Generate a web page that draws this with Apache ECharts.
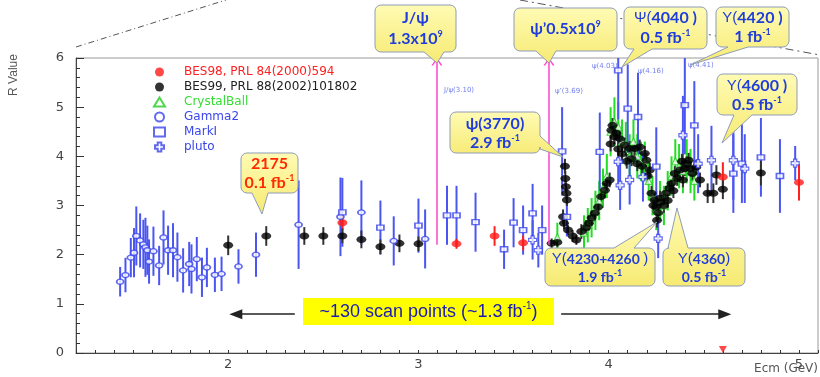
<!DOCTYPE html>
<html>
<head>
<meta charset="utf-8">
<script src="https://cdn.jsdelivr.net/npm/echarts@6/dist/echarts.min.js"></script>
<style>
  html, body { margin: 0; padding: 0; background: #fff; }
  #chart { width: 820px; height: 377px; }
</style>
</head>
<body>
<div id="chart"></div>
<script>
// each point: [Ecm (GeV), R, error]
const bes98 = [
  [2.6, 2.65, 0.15], [3.2, 2.22, 0.1], [3.4, 2.38, 0.2], [3.55, 2.24, 0.15],
  [4.6, 3.58, 0.3], [5.0, 3.47, 0.37]
];
const bes99 = [
  [2.0, 2.19, 0.2], [2.2, 2.38, 0.2], [2.4, 2.38, 0.18], [2.5, 2.38, 0.18], [2.6, 2.38, 0.15],
  [2.7, 2.31, 0.18], [2.8, 2.16, 0.15], [2.9, 2.23, 0.18], [3.0, 2.22, 0.15],
  [3.7, 2.23, 0.1], [3.73, 2.25, 0.1],
  [3.76, 2.77, 0.15], [3.765, 2.64, 0.12], [3.77, 3.8, 0.15], [3.772, 3.55, 0.15], [3.775, 3.38, 0.12],
  [3.778, 3.25, 0.12], [3.78, 3.11, 0.12], [3.786, 2.5, 0.1], [3.81, 2.38, 0.12], [3.83, 2.3, 0.1],
  [3.856, 2.47, 0.15], [3.88, 2.55, 0.15], [3.896, 2.64, 0.15], [3.91, 2.75, 0.15], [3.926, 2.84, 0.15],
  [3.944, 2.97, 0.15], [3.96, 3.18, 0.15], [3.98, 3.31, 0.15], [3.99, 3.45, 0.15], [4.005, 3.52, 0.15],
  [4.01, 4.25, 0.15], [4.014, 4.53, 0.15], [4.02, 4.63, 0.15], [4.03, 4.4, 0.15], [4.04, 4.47, 0.15],
  [4.05, 4.15, 0.15], [4.058, 4.36, 0.15], [4.07, 4.05, 0.15], [4.084, 4.23, 0.15], [4.095, 3.9, 0.15],
  [4.11, 4.16, 0.15], [4.12, 3.95, 0.15], [4.137, 4.16, 0.15], [4.15, 3.85, 0.15], [4.163, 4.19, 0.15],
  [4.175, 3.8, 0.15], [4.19, 4.06, 0.15], [4.198, 3.92, 0.15], [4.205, 3.6, 0.15], [4.216, 3.72, 0.15],
  [4.225, 3.25, 0.15], [4.235, 3.0, 0.15], [4.24, 3.11, 0.15], [4.25, 2.97, 0.15], [4.254, 2.7, 0.15],
  [4.26, 2.85, 0.15], [4.27, 3.15, 0.15], [4.277, 3.07, 0.15], [4.29, 3.0, 0.15], [4.3, 3.25, 0.15],
  [4.31, 3.1, 0.15], [4.32, 3.35, 0.15], [4.33, 3.45, 0.15], [4.34, 3.3, 0.15], [4.347, 3.65, 0.15],
  [4.36, 3.55, 0.15], [4.374, 3.72, 0.15], [4.385, 3.9, 0.15], [4.39, 3.52, 0.15], [4.4, 3.75, 0.15],
  [4.41, 3.85, 0.15], [4.42, 3.92, 0.15], [4.43, 3.75, 0.15], [4.44, 3.65, 0.15], [4.46, 3.78, 0.15],
  [4.48, 3.52, 0.15], [4.52, 3.25, 0.2], [4.55, 3.25, 0.2], [4.566, 3.62, 0.2], [4.6, 3.33, 0.2],
  [4.8, 3.66, 0.25]
];
const crystalBall = [
  [3.73, 2.35, 0.3], [3.87, 2.45, 0.35], [3.89, 2.6, 0.35], [3.91, 2.75, 0.4], [3.93, 2.9, 0.4],
  [3.95, 3.1, 0.4], [3.97, 3.35, 0.4], [3.99, 3.6, 0.45], [4.01, 4.5, 0.5], [4.03, 4.7, 0.5],
  [4.05, 4.6, 0.5], [4.07, 4.3, 0.45], [4.09, 4.25, 0.45], [4.11, 4.0, 0.45], [4.13, 4.3, 0.45],
  [4.15, 4.0, 0.45], [4.17, 3.9, 0.4], [4.19, 3.9, 0.4], [4.21, 3.5, 0.4], [4.23, 3.2, 0.4],
  [4.25, 2.9, 0.4], [4.27, 3.1, 0.4], [4.29, 3.0, 0.4], [4.31, 3.3, 0.4], [4.33, 3.6, 0.4],
  [4.35, 3.9, 0.45], [4.37, 3.8, 0.45], [4.39, 3.7, 0.45], [4.41, 3.9, 0.45], [4.43, 3.7, 0.45],
  [4.45, 3.5, 0.4]
];
const gamma2 = [
  [1.432, 1.45, 0.3], [1.46, 1.585, 0.35], [1.488, 1.94, 0.4], [1.505, 2.04, 0.5], [1.517, 2.38, 0.6],
  [1.537, 2.29, 0.55], [1.554, 2.21, 0.5], [1.565, 2.15, 0.6], [1.575, 2.09, 0.5], [1.584, 1.86, 0.45],
  [1.607, 2.07, 0.5], [1.637, 1.78, 0.4], [1.66, 2.35, 0.55], [1.684, 2.09, 0.5], [1.71, 2.09, 0.55],
  [1.733, 1.95, 0.5], [1.763, 1.68, 0.45], [1.795, 1.81, 0.45], [1.807, 1.71, 0.5], [1.835, 1.91, 0.45],
  [1.862, 1.54, 0.4], [1.888, 1.74, 0.4], [1.93, 1.59, 0.35], [1.965, 1.61, 0.35], [2.054, 1.76, 0.35],
  [2.146, 2.0, 0.45], [2.37, 2.61, 0.9], [2.59, 2.77, 0.8], [2.7, 2.86, 0.65], [2.87, 2.28, 0.5],
  [3.035, 2.32, 0.6]
];
const markI = [
  [2.6, 2.86, 0.7], [2.8, 2.55, 0.55], [3.0, 2.59, 0.55], [3.15, 2.8, 0.6], [3.2, 2.8, 0.6],
  [3.3, 2.66, 0.6], [3.45, 2.11, 0.4], [3.5, 2.65, 0.5], [3.55, 2.5, 0.5], [3.6, 2.84, 0.6],
  [3.65, 2.5, 0.5], [3.755, 4.1, 0.9], [3.78, 2.77, 0.4], [3.953, 4.09, 0.8], [4.05, 5.75, 1.0],
  [4.1, 4.97, 0.9], [4.154, 4.8, 0.9], [4.25, 3.79, 0.8], [4.4, 5.04, 1.0], [4.45, 4.63, 0.9],
  [4.655, 3.65, 0.8], [4.7, 3.85, 0.8], [4.8, 3.98, 0.8], [4.9, 3.6, 0.75]
];
const pluto = [
  [3.6, 2.3, 0.4], [3.63, 2.09, 0.35], [4.05, 3.89, 0.5], [4.06, 3.41, 0.5], [4.11, 3.52, 0.5],
  [4.18, 3.58, 0.5], [4.26, 2.33, 0.4], [4.39, 4.43, 0.8], [4.47, 3.85, 0.6], [4.54, 3.92, 0.7],
  [4.655, 3.92, 0.8], [4.715, 3.75, 0.7], [4.98, 3.86, 0.35]
];
const xLabelValues = [2, 3, 4, 5];
const resonanceLines = [3.097, 3.686];   // J/psi and psi' energies
const scanArrowLeft = [2.35, 2.04];
const scanArrowRight = [3.75, 4.61];
const scanArrowR = 0.79;
const axisMarker = [[4.6, 0.07]];

const chart = echarts.init(document.getElementById('chart'));

const BLUE = '#3a45ee';
const TXT = '#1f3ddc';

function errorSeries(name, data, color, width) {
  return {
    name: name,
    type: 'custom',
    data: data,
    clip: true,
    silent: true,
    encode: { x: 0, y: 1 },
    renderItem: function (params, api) {
      const x = api.value(0), y = api.value(1), e = api.value(2);
      const p1 = api.coord([x, y - e]);
      const p2 = api.coord([x, y + e]);
      return {
        type: 'line',
        shape: { x1: p1[0], y1: p1[1], x2: p2[0], y2: p2[1] },
        style: { stroke: color, lineWidth: width }
      };
    }
  };
}

function markerSeries(name, data, symbol, size, style, z) {
  return {
    name: name,
    type: 'scatter',
    data: data.map(d => [d[0], d[1]]),
    symbol: symbol,
    symbolSize: size,
    itemStyle: style,
    z: z
  };
}

// speech-bubble outline (rounded box + tail) as polygon points
function bubblePoints(b) {
  const x = b.x, y = b.y, w = b.w, h = b.h, r = 6, t = b.tip;
  const pts = [];
  function corner(cx, cy, a0) {
    for (let i = 0; i <= 4; i++) {
      const a = a0 + (Math.PI / 2) * i / 4;
      pts.push([cx + r * Math.cos(a), cy + r * Math.sin(a)]);
    }
  }
  corner(x + r, y + r, Math.PI);               // top-left
  if (b.side === 'top') pts.push([b.b1, y], t, [b.b2, y]);
  corner(x + w - r, y + r, -Math.PI / 2);      // top-right
  if (b.side === 'right') pts.push([x + w, b.b1], t, [x + w, b.b2]);
  corner(x + w - r, y + h - r, 0);             // bottom-right
  if (b.side === 'bottom') pts.push([b.b2, y + h], t, [b.b1, y + h]);
  corner(x + r, y + h - r, Math.PI / 2);       // bottom-left
  return pts;
}

const bubbles = [
  { x: 241, y: 153, w: 57, h: 40, side: 'bottom', b1: 252, b2: 268, tip: [262, 214], color: '#ff2a00',
    lines: [['{b|2175}', 164], ['{b|0.1 fb}{s|-1}', 183]] },
  { x: 375, y: 5, w: 81, h: 47, side: 'bottom', b1: 424, b2: 444, tip: [437, 63], color: TXT,
    lines: [['{b|J/ψ}', 18], ['{b|1.3x10}{s|9}', 39]] },
  { x: 514, y: 8, w: 103, h: 43, side: 'bottom', b1: 536, b2: 556, tip: [549, 63], color: TXT,
    lines: [['{b|ψ’0.5x10}{s|9}', 29]] },
  { x: 624, y: 7, w: 83, h: 42, side: 'bottom', b1: 634, b2: 652, tip: [622, 67], color: TXT,
    lines: [['{t|Ψ(}{b|4040 )}', 18], ['{b|0.5 fb}{s|-1}', 38]] },
  { x: 716, y: 7, w: 73, h: 40, side: 'bottom', b1: 728, b2: 748, tip: [690, 65], color: TXT,
    lines: [['{t|Y(}{b|4420 )}', 18], ['{b|1 fb}{s|-1}', 37]] },
  { x: 717, y: 74, w: 80, h: 41, side: 'bottom', b1: 734, b2: 752, tip: [722, 143], color: TXT,
    lines: [['{t|Y(}{b|4600 )}', 86], ['{b|0.5 fb}{s|-1}', 105]] },
  { x: 450, y: 112, w: 90, h: 41, side: 'right', b1: 136, b2: 149, tip: [563, 157], color: TXT,
    lines: [['{b|ψ(3770)}', 124], ['{b|2.9 fb}{s|-1}', 143]] },
  { x: 545, y: 248, w: 110, h: 38, side: 'top', b1: 614, b2: 634, tip: [657, 222], color: TXT,
    lines: [['{t|Y(}{m|4230+4260 }{t|)}', 259], ['{m|1.9 fb}{s|-1}', 277]] },
  { x: 663, y: 248, w: 82, h: 38, side: 'top', b1: 668, b2: 688, tip: [677, 208], color: TXT,
    lines: [['{t|Y(}{m|4360}{t|)}', 259], ['{m|0.5 fb}{s|-1}', 277]] }
];

const graphics = [];
bubbles.forEach(b => {
  graphics.push({
    type: 'polygon',
    shape: { points: bubblePoints(b) },
    style: {
      fill: {
        type: 'linear', x: 0, y: 0, x2: 0, y2: 1,
        colorStops: [{ offset: 0, color: '#fffbb4' }, { offset: 1, color: '#f6ea72' }]
      },
      stroke: '#8f9cb6',
      lineWidth: 1
    },
    z: 100
  });
  const cx = b.x + b.w / 2;
  b.lines.forEach(l => {
    graphics.push({
      type: 'text',
      z: 101,
      style: {
        text: l[0], x: cx, y: l[1], align: 'center', verticalAlign: 'middle',
        rich: {
          b: { fill: b.color, fontFamily: 'Lato', fontWeight: 'bold', fontSize: 16, lineHeight: 18 },
          m: { fill: b.color, fontFamily: 'Lato', fontWeight: 'bold', fontSize: 14, lineHeight: 17 },
          t: { fill: b.color, fontFamily: 'Liberation Sans', fontSize: 15, lineHeight: 17 },
          s: { fill: b.color, fontFamily: 'Lato', fontWeight: 'bold', fontSize: 9, verticalAlign: 'top' }
        }
      }
    });
  });
});

// highlighted scan label
graphics.push({
  type: 'rect', shape: { x: 303, y: 298, width: 251, height: 27 },
  style: { fill: '#ffff00' }, z: 100
});
graphics.push({
  type: 'text', z: 101,
  style: {
    text: '{a|~130 scan points (~1.3 fb}{s|-1}{a|)}', x: 428.5, y: 312, align: 'center', verticalAlign: 'middle',
    rich: {
      a: { fill: '#1a1ab4', fontFamily: 'Liberation Sans', fontSize: 18, lineHeight: 22 },
      s: { fill: '#1a1ab4', fontFamily: 'Liberation Sans', fontSize: 10, verticalAlign: 'top' }
    }
  }
});

// axis titles
graphics.push({
  type: 'text', x: 14, y: 75, rotation: Math.PI / 2, z: 50,
  style: { text: 'R Value', align: 'center', verticalAlign: 'middle', fill: '#555', font: '12px "Liberation Sans"' }
});
graphics.push({
  type: 'text', z: 50,
  style: { text: 'Ecm (GeV)', x: 818, y: 369, align: 'right', verticalAlign: 'middle', fill: '#555', font: '12px "DejaVu Sans"' }
});

// zoom guide lines at the top
graphics.push({
  type: 'line', shape: { x1: 76, y1: 47, x2: 226, y2: 0 },
  style: { stroke: '#555', lineWidth: 1, lineDash: [6, 3, 1, 3] }, z: 5
});
graphics.push({
  type: 'line', shape: { x1: 520, y1: 0, x2: 820, y2: 55 },
  style: { stroke: '#555', lineWidth: 1, lineDash: [8, 4, 2, 4] }, z: 5
});

// tiny resonance tags
[['J/ψ(3.10)', 444, 90], ['ψ’(3.69)', 555, 91], ['ψ(4.03)', 592, 66], ['ψ(4.16)', 638, 71], ['ψ(4.41)', 688, 65]]
  .forEach(t => graphics.push({
    type: 'text', z: 20,
    style: { text: t[0], x: t[1], y: t[2], align: 'left', verticalAlign: 'middle', fill: '#7380ee', font: '7px "DejaVu Sans"' }
  }));

const plusPath = 'path://M3,0 L7,0 L7,3 L10,3 L10,7 L7,7 L7,10 L3,10 L3,7 L0,7 L0,3 L3,3 Z';
const chevron = 'path://M0,10 L5,0 L10,10 L8.4,10 L5,3 L1.6,10 Z';

const option = {
  animation: false,
  backgroundColor: '#fff',
  grid: {
    left: 76, right: 2, top: 58, bottom: 24,
    show: true, borderColor: '#9a9a9a', borderWidth: 1
  },
  legend: {
    orient: 'vertical',
    left: 148,
    top: 61,
    itemWidth: 11,
    itemHeight: 9,
    itemGap: 3,
    selectedMode: false,
    textStyle: { fontFamily: 'DejaVu Sans', fontSize: 12, lineHeight: 12, padding: [0, 0, 0, 14] },
    data: [
      { name: 'BES98, PRL 84(2000)594', textStyle: { color: '#ff2020' } },
      { name: 'BES99, PRL 88(2002)101802', textStyle: { color: '#222' } },
      { name: 'CrystalBall', textStyle: { color: '#33dd33' } },
      { name: 'Gamma2', textStyle: { color: BLUE } },
      { name: 'MarkI', textStyle: { color: BLUE } },
      { name: 'pluto', textStyle: { color: BLUE } }
    ]
  },
  xAxis: {
    type: 'value',
    min: 1.2,
    max: 5.1,
    interval: 0.1,
    axisLine: { lineStyle: { color: '#444' } },
    axisTick: { inside: true, length: 3, lineStyle: { color: '#333' } },
    axisLabel: { customValues: xLabelValues, color: '#444', fontSize: 13, fontFamily: 'DejaVu Sans', margin: 5 },
    splitLine: { show: false }
  },
  yAxis: {
    type: 'value',
    min: 0,
    max: 6,
    interval: 1,
    axisLine: { show: true, lineStyle: { color: '#444' } },
    axisTick: { inside: true, length: 8, lineStyle: { color: '#333' } },
    minorTick: { show: true, splitNumber: 5, length: 4, lineStyle: { color: '#333' } },
    axisLabel: { color: '#444', fontSize: 13, fontFamily: 'DejaVu Sans', margin: 12 },
    splitLine: { show: false }
  },
  graphic: graphics,
  series: [
    errorSeries('cb err', crystalBall, '#22dd22', 2),
    errorSeries('g2 err', gamma2, '#4a55f2', 2),
    errorSeries('mk err', markI, '#4a55f2', 2),
    errorSeries('pl err', pluto, '#4a55f2', 2),
    errorSeries('b98 err', bes98, '#ff2020', 2),
    errorSeries('b99 err', bes99, '#333', 2),
    markerSeries('CrystalBall', crystalBall, 'triangle', 7,
      { color: '#fff', borderColor: '#22cc22', borderWidth: 1.2 }, 3),
    markerSeries('BES99, PRL 88(2002)101802', bes99, 'circle', [10, 7], { color: '#000' }, 4),
    markerSeries('BES98, PRL 84(2000)594', bes98, 'circle', [10, 7], { color: '#ff1a1a' }, 5),
    markerSeries('Gamma2', gamma2, 'circle', [7, 5], { color: '#fff', borderColor: BLUE, borderWidth: 1.5 }, 6),
    markerSeries('MarkI', markI, 'rect', [7, 5], { color: '#fff', borderColor: BLUE, borderWidth: 1.5 }, 6),
    markerSeries('pluto', pluto, plusPath, [8, 8], { color: '#fff', borderColor: BLUE, borderWidth: 1.2 }, 6),
    {
      name: 'axis marker',
      type: 'scatter',
      data: axisMarker,
      symbol: 'triangle',
      symbolRotate: 180,
      symbolSize: [8, 7],
      itemStyle: { color: '#ff1a1a' },
      z: 7,
      markLine: {
        silent: true,
        label: { show: false },
        symbol: ['none', chevron],
        symbolSize: [11, 8],
        lineStyle: { color: '#ff44cc', width: 1.5, type: 'solid' },
        data: resonanceLines.map(e => [{ coord: [e, 2.2] }, { coord: [e, 5.93] }])
      }
    },
    {
      name: 'scan arrows',
      type: 'scatter',
      data: [],
      markLine: {
        silent: true,
        label: { show: false },
        symbol: ['none', 'triangle'],
        symbolSize: [10, 13],
        lineStyle: { color: '#222', width: 1.5, type: 'solid' },
        data: [
          [{ coord: [scanArrowLeft[0], scanArrowR] }, { coord: [scanArrowLeft[1], scanArrowR] }],
          [{ coord: [scanArrowRight[0], scanArrowR] }, { coord: [scanArrowRight[1], scanArrowR] }]
        ]
      }
    }
  ]
};

chart.setOption(option);
</script>
</body>
</html>
